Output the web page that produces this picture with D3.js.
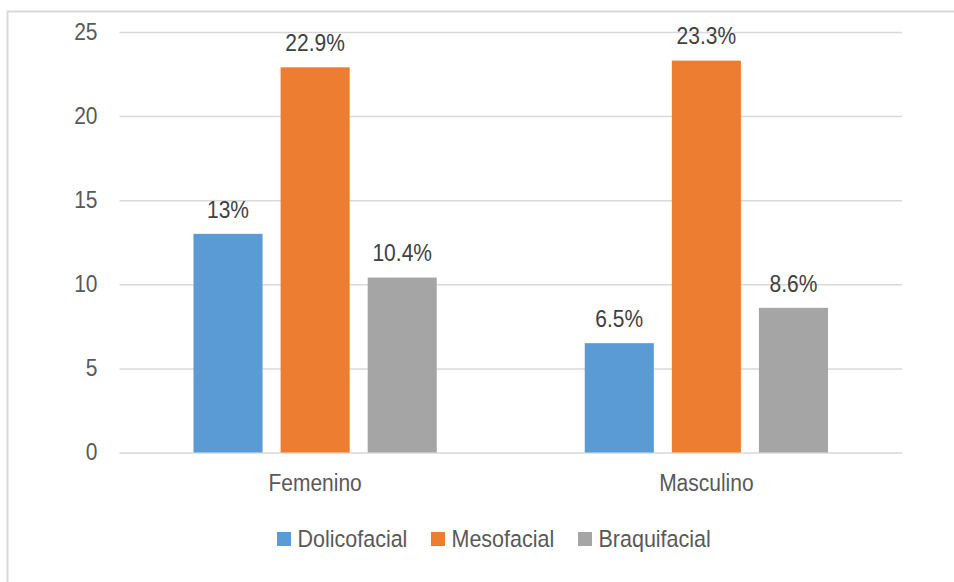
<!DOCTYPE html>
<html>
<head>
<meta charset="utf-8">
<script src="https://cdn.jsdelivr.net/npm/d3@7"></script>
<style>
  body { margin: 0; background: #fff; }
  svg { display: block; font-family: "Liberation Sans", Arial, sans-serif; }
  svg text { transform-box: fill-box; transform-origin: center; transform: scaleY(1.1); }
</style>
</head>
<body>
<div id="chart"></div>
<script>
const categories = ["Femenino", "Masculino"];
const seriesNames = ["Dolicofacial", "Mesofacial", "Braquifacial"];
const dolicofacial = [13, 6.5];
const mesofacial = [22.9, 23.3];
const braquifacial = [10.4, 8.6];
const valueLabels = [["13%", "6.5%"], ["22.9%", "23.3%"], ["10.4%", "8.6%"]];
const yTicks = [0, 5, 10, 15, 20, 25];

const colors = ["#5b9bd5", "#ed7d31", "#a5a5a5"];
const seriesValues = [dolicofacial, mesofacial, braquifacial];

const width = 954, height = 582;
const plot = { left: 119.5, right: 902, top: 32, bottom: 452.5 };
const fontSize = 21;

const svg = d3.select("#chart").append("svg")
    .attr("width", width)
    .attr("height", height);

// outer chart border
svg.append("rect")
    .attr("x", 7.5)
    .attr("y", 11.5)
    .attr("width", 960)
    .attr("height", 600)
    .attr("fill", "none")
    .attr("stroke", "#d9d9d9")
    .attr("stroke-width", 2);

const y = d3.scaleLinear().domain([0, 25]).range([plot.bottom, plot.top]);
const x0 = d3.scaleBand().domain(categories).range([plot.left, plot.right]);
const x1 = d3.scaleBand().domain(seriesNames)
    .range([74, x0.bandwidth() - 74])
    .paddingInner(18 / 87);

// y axis with gridlines
const yAxis = svg.append("g")
    .attr("transform", `translate(${plot.left},0)`)
    .call(d3.axisLeft(y).tickValues(yTicks).tickSize(-(plot.right - plot.left)).tickPadding(22));
yAxis.select(".domain").remove();
yAxis.selectAll("line").attr("stroke", "#d9d9d9").attr("stroke-width", 1.5);
yAxis.selectAll("text")
    .attr("fill", "#595959")
    .style("font-size", fontSize + "px")
    .style("font-family", "'Liberation Sans', Arial, sans-serif");

// x axis labels
const xAxis = svg.append("g")
    .attr("transform", `translate(0,${plot.bottom})`)
    .call(d3.axisBottom(x0).tickSize(0).tickPadding(23));
xAxis.select(".domain").remove();
xAxis.selectAll("text")
    .attr("fill", "#595959")
    .style("font-size", fontSize + "px")
    .style("font-family", "'Liberation Sans', Arial, sans-serif");

// bars
const groups = svg.selectAll(".series")
    .data(seriesNames)
    .enter().append("g")
    .attr("class", "series");

groups.each(function (name, si) {
    const g = d3.select(this);
    const vals = seriesValues[si];
    g.selectAll("rect")
        .data(categories)
        .enter().append("rect")
        .attr("x", (c) => x0(c) + x1(name))
        .attr("y", (c, i) => y(vals[i]))
        .attr("width", x1.bandwidth())
        .attr("height", (c, i) => y(0) - y(vals[i]))
        .attr("fill", colors[si]);

    g.selectAll("text")
        .data(categories)
        .enter().append("text")
        .attr("x", (c) => x0(c) + x1(name) + x1.bandwidth() / 2)
        .attr("y", (c, i) => y(vals[i]) - 17)
        .attr("text-anchor", "middle")
        .attr("fill", "#404040")
        .style("font-size", fontSize + "px")
        .text((c, i) => valueLabels[si][i]);
});

// legend
const legendX = [277, 431, 578];
const legend = svg.append("g");
seriesNames.forEach((name, i) => {
    legend.append("rect")
        .attr("x", legendX[i])
        .attr("y", 532)
        .attr("width", 14)
        .attr("height", 14)
        .attr("fill", colors[i]);
    legend.append("text")
        .attr("x", legendX[i] + 20.5)
        .attr("y", 546)
        .attr("fill", "#595959")
        .style("font-size", "21.5px")
        .text(name);
});
</script>
</body>
</html>
